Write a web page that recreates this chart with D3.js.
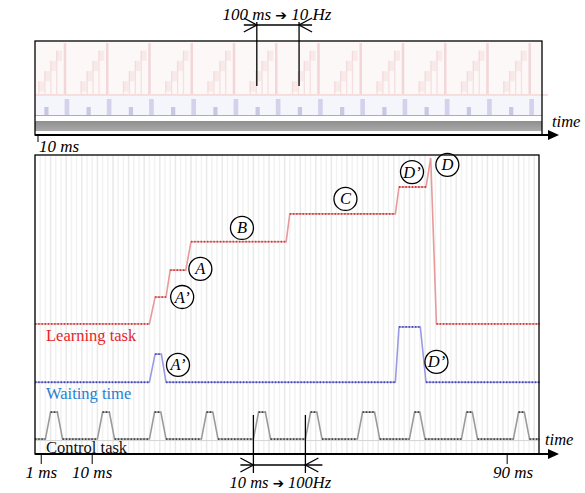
<!DOCTYPE html>
<html><head><meta charset="utf-8">
<script src="https://cdn.jsdelivr.net/npm/d3@7"></script>
<style>
body{margin:0;background:#fff}
svg{display:block}
text{font-family:"Liberation Serif","DejaVu Serif",serif}
.arr{font-family:"DejaVu Sans",sans-serif;font-style:normal}
</style>
</head><body>
<svg id="c" width="585" height="493"></svg>
<script>
// ---------- data (main panel, time in ms, level in arbitrary units 0-100) ----------
const learnT = [-1, 21, 22.1, 24.2, 25, 28, 29, 47.3, 48, 68.3, 69, 74.2, 75.1, 76.2, 96];
const learnV = [43.5, 43.5, 52.5, 52.5, 61.5, 61.5, 71, 71, 80.3, 80.3, 89.3, 89.3, 99, 43.5, 43.5];
const waitT = [-1, 21, 22.1, 23.3, 24.2, 68.3, 69, 73.1, 74.2, 96];
const waitV = [24, 24, 33.4, 33.4, 24, 24, 42.5, 42.5, 24, 24];
const ctrlStart = [1, 11, 21, 31, 41, 51, 61, 71, 81, 91];
const ctrlTop = [1.3, 1.3, 1.2, 1.2, 1.3, 1.2, 2.3, 1.0, 1.1, 1.1];
const ctrlBase = 5, ctrlPeak = 14;
const labelText = ["A\u2019", "A", "B", "C", "D\u2019", "D", "A\u2019", "D\u2019"];
const labelT = [27.3, 30.8, 38.8, 58.7, 71.5, 78.3, 26.5, 76.2];
const labelV = [52.5, 61.9, 75.6, 85.3, 94.3, 96.7, 29.8, 30.8];
const tickTimes = [0.2, 10, 89.8];
const tickLabels = ["1 ms", "10 ms", "90 ms"];
const trackNames = ["Learning task", "Waiting time", "Control task"];
// ---------- data (top overview panel, time in ms) ----------
const cycleStarts = [0, 100, 200, 300, 400, 500, 600, 700, 800, 900, 1000, 1100];
const stepOffsets = [8, 22, 36, 50];
const stepLevels = [0.25, 0.45, 0.65, 0.85];
const peakOffset = 68;
const smallBarOffset = 22, tallBarOffset = 70;
const topAnnotTimes = [525, 625];

const svg = d3.select("#c");

// ---------- top panel ----------
const TL = 35, TR = 542, TT = 41, TB = 135;
const xTop = d3.scaleLinear().domain([0, 1200]).range([TL, TR]);
const yRed = d3.scaleLinear().domain([0, 1]).range([94, 43]);
const gTop = svg.append("g");
gTop.append("rect").attr("x", TL).attr("y", TT).attr("width", TR - TL).attr("height", 54).attr("fill", "#fdf8f8");
cycleStarts.forEach(c => {
  stepOffsets.forEach((o, i) => {
    gTop.append("rect").attr("x", xTop(c + o)).attr("y", yRed(stepLevels[i]))
      .attr("width", xTop(14) - xTop(0)).attr("height", yRed(stepLevels[i] - 0.2) - yRed(stepLevels[i]))
      .attr("fill", "#f8e6e6").attr("opacity", 0.8);
    gTop.append("rect").attr("x", xTop(c + o)).attr("y", yRed(stepLevels[i]))
      .attr("width", xTop(3) - xTop(0)).attr("height", yRed(0) - yRed(stepLevels[i]))
      .attr("fill", "#f1d4d6").attr("opacity", 0.7);
  });
  gTop.append("rect").attr("x", xTop(c + peakOffset)).attr("y", yRed(1))
    .attr("width", xTop(6) - xTop(0)).attr("height", yRed(0) - yRed(1))
    .attr("fill", "#efcdd0").attr("opacity", 0.8);
});
gTop.append("line").attr("x1", TL).attr("x2", TR + 6).attr("y1", 95).attr("y2", 95).attr("stroke", "#f2c0c0").attr("stroke-width", 1.2);
gTop.append("rect").attr("x", TL).attr("y", 96).attr("width", TR - TL).attr("height", 19).attr("fill", "#f5f5fc");
cycleStarts.forEach(c => {
  gTop.append("rect").attr("x", xTop(c + smallBarOffset)).attr("y", 107).attr("width", xTop(10) - xTop(0)).attr("height", 8).attr("fill", "#c8c8e4");
  gTop.append("rect").attr("x", xTop(c + tallBarOffset)).attr("y", 99).attr("width", xTop(11) - xTop(0)).attr("height", 16).attr("fill", "#d2d2ec");
});
gTop.append("line").attr("x1", TL).attr("x2", TR).attr("y1", 115.5).attr("y2", 115.5).attr("stroke", "#b0a4dc").attr("stroke-width", 1);
const grad = svg.append("defs").append("linearGradient").attr("id", "gg").attr("x1", 0).attr("x2", 0).attr("y1", 0).attr("y2", 1);
grad.append("stop").attr("offset", 0).attr("stop-color", "#8e8e8e");
grad.append("stop").attr("offset", 1).attr("stop-color", "#aaaaaa");
gTop.append("rect").attr("x", TL).attr("y", 121).attr("width", TR - TL).attr("height", 10).attr("fill", "url(#gg)");
gTop.append("rect").attr("x", TL).attr("y", TT).attr("width", TR - TL).attr("height", TB - TT).attr("fill", "none").attr("stroke", "#000").attr("stroke-width", 1.3);
gTop.append("line").attr("x1", TL).attr("x2", 550).attr("y1", TB).attr("y2", TB).attr("stroke", "#000").attr("stroke-width", 2);
gTop.append("path").attr("d", `M548,${TB - 5}L559,${TB}L548,${TB + 5}Z`).attr("fill", "#000");
gTop.append("text").attr("x", 552).attr("y", 127).attr("font-style", "italic").attr("font-size", 16.5).text("time");
gTop.append("line").attr("x1", 38).attr("x2", 38).attr("y1", TB).attr("y2", 142).attr("stroke", "#000").attr("stroke-width", 1);
gTop.append("text").attr("x", 39).attr("y", 152).attr("font-style", "italic").attr("font-size", 17).text("10 ms");
const a1 = xTop(topAnnotTimes[0]), a2 = xTop(topAnnotTimes[1]);
gTop.selectAll(".av").data([a1, a2]).join("line").attr("x1", d => d).attr("x2", d => d).attr("y1", 22).attr("y2", 86).attr("stroke", "#000").attr("stroke-width", 1.3);
gTop.append("line").attr("x1", a1 - 13).attr("x2", a2 + 13).attr("y1", 25).attr("y2", 25).attr("stroke", "#000").attr("stroke-width", 1.3);
gTop.append("path").attr("d", `M${a1 - 13},18L${a1},25L${a1 - 13},32M${a2 + 13},18L${a2},25L${a2 + 13},32`).attr("fill", "none").attr("stroke", "#000").attr("stroke-width", 1.3);
const t1 = gTop.append("text").attr("x", (a1 + a2) / 2 - 1).attr("y", 20).attr("text-anchor", "middle").attr("font-style", "italic").attr("font-size", 17);
t1.append("tspan").text("100 ms ");
t1.append("tspan").attr("class", "arr").attr("font-size", 14).text("\u2794");
t1.append("tspan").text(" 10 Hz");

// ---------- main panel ----------
const L = 35, R = 539, T = 155, B = 454;
const x = d3.scaleLinear().domain([-1, 96]).range([L, L + 97 * 5.2]);
const y = d3.scaleLinear().domain([0, 100]).range([B, T]);
const g = svg.append("g");
const gridTimes = d3.range(-1, 96, 1);
g.selectAll(".grid").data(gridTimes).join("line")
  .attr("x1", d => x(d)).attr("x2", d => x(d)).attr("y1", T).attr("y2", B)
  .attr("stroke", (d, i) => i % 3 === 0 ? "#e9e9e9" : "#f2f2f2").attr("stroke-width", 1.5);
g.append("line").attr("x1", L).attr("x2", R).attr("y1", y(ctrlBase) + 1.5).attr("y2", y(ctrlBase) + 1.5).attr("stroke", "#d4d4d4").attr("stroke-width", 1);

function drawTrack(ts, vs, light, dark) {
  const pts = ts.map((t, i) => [t, vs[i]]);
  const line = d3.line().x(d => x(d[0])).y(d => y(d[1]));
  g.append("path").attr("d", line(pts)).attr("fill", "none").attr("stroke", light).attr("stroke-width", 1.6);
  for (let i = 0; i < pts.length - 1; i++) {
    if (pts[i][1] === pts[i + 1][1]) {
      g.append("line").attr("x1", x(pts[i][0])).attr("x2", x(pts[i + 1][0]))
        .attr("y1", y(pts[i][1])).attr("y2", y(pts[i][1]))
        .attr("stroke", dark).attr("stroke-width", 1.8).attr("stroke-dasharray", "1.4,1.8");
    }
  }
}
const ctrlT = [-1], ctrlV = [ctrlBase];
ctrlStart.forEach((s, i) => {
  ctrlT.push(s, s + 1, s + 1 + ctrlTop[i], s + 2 + ctrlTop[i]);
  ctrlV.push(ctrlBase, ctrlPeak, ctrlPeak, ctrlBase);
});
ctrlT.push(96); ctrlV.push(ctrlBase);
drawTrack(ctrlT, ctrlV, "#9a9a9a", "#444");
drawTrack(waitT, waitV, "#9a9ae2", "#4a4ab0");
drawTrack(learnT, learnV, "#e89a9a", "#c83c3c");

const nameY = [341, 399, 453];
const nameColor = ["#e8242a", "#1f80d2", "#111"];
g.selectAll(".nm").data(trackNames).join("text")
  .attr("x", 46).attr("y", (d, i) => nameY[i]).attr("font-size", 16.5)
  .attr("fill", (d, i) => nameColor[i]).text(d => d);

const lab = g.selectAll(".lab").data(labelText).join("g")
  .attr("transform", (d, i) => `translate(${x(labelT[i])},${y(labelV[i])})`);
lab.append("circle").attr("r", 11.5).attr("fill", "#fff").attr("stroke", "#000").attr("stroke-width", 1.3);
lab.append("text").attr("text-anchor", "middle").attr("y", 5.5).attr("font-style", "italic").attr("font-size", 16.5).text(d => d);

g.append("rect").attr("x", L).attr("y", T).attr("width", R - L).attr("height", B - T).attr("fill", "none").attr("stroke", "#000").attr("stroke-width", 1.3);
g.append("line").attr("x1", L).attr("x2", 550).attr("y1", B).attr("y2", B).attr("stroke", "#000").attr("stroke-width", 2);
g.append("path").attr("d", `M548,${B - 5}L559,${B}L548,${B + 5}Z`).attr("fill", "#000");
g.append("text").attr("x", 545).attr("y", 445).attr("font-style", "italic").attr("font-size", 16.5).text("time");

g.selectAll(".tk").data(tickTimes).join("line")
  .attr("x1", d => x(d)).attr("x2", d => x(d)).attr("y1", B).attr("y2", 464).attr("stroke", "#000").attr("stroke-width", 1);
g.selectAll(".tl").data(tickLabels).join("text")
  .attr("x", (d, i) => x(tickTimes[i]) + (i === 2 ? 6 : 0)).attr("y", 478).attr("text-anchor", "middle")
  .attr("font-style", "italic").attr("font-size", 17).text(d => d);

const b1 = x(41), b2 = x(51);
g.selectAll(".bv").data([b1, b2]).join("line").attr("x1", d => d).attr("x2", d => d).attr("y1", 415).attr("y2", 473).attr("stroke", "#000").attr("stroke-width", 1.3);
g.append("line").attr("x1", b1 - 13).attr("x2", b2 + 17).attr("y1", 465).attr("y2", 465).attr("stroke", "#000").attr("stroke-width", 1.3);
g.append("path").attr("d", `M${b1 - 13},458L${b1},465L${b1 - 13},472M${b2 + 13},458L${b2},465L${b2 + 13},472`).attr("fill", "none").attr("stroke", "#000").attr("stroke-width", 1.3);
const t2 = g.append("text").attr("x", (b1 + b2) / 2 + 1).attr("y", 488).attr("text-anchor", "middle").attr("font-style", "italic").attr("font-size", 16.5);
t2.append("tspan").text("10 ms ");
t2.append("tspan").attr("class", "arr").attr("font-size", 13.5).text("\u2794");
t2.append("tspan").text(" 100Hz");
</script>
</body></html>
